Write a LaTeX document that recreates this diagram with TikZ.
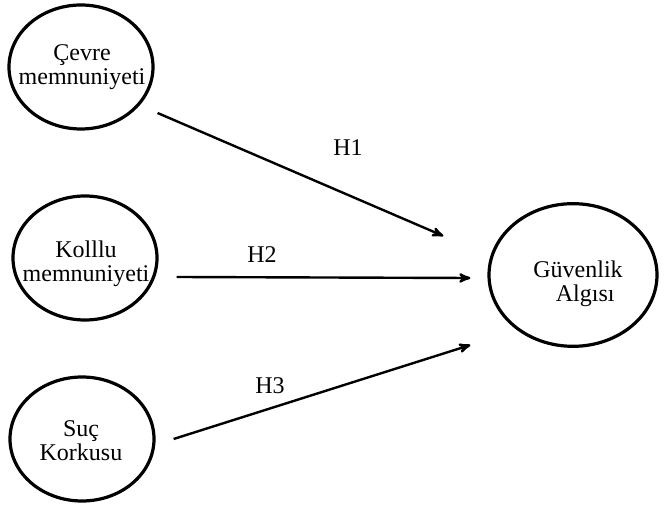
\documentclass[tikz,border=0pt]{standalone}
\usepackage{fontspec}
\setmainfont{Liberation Serif}
\usepackage{tikz}
\usetikzlibrary{arrows}
\usetikzlibrary{shapes.geometric}
\usetikzlibrary{positioning}
\begin{document}
\begin{tikzpicture}[x=0.75pt,y=-0.75pt,->,>=stealth',
    oval node/.style={ellipse,draw,line width=2.4pt,inner sep=0pt,minimum width=108pt,minimum height=93pt},
    big oval/.style={oval node,minimum width=126pt,minimum height=107pt},
    text node/.style={align=center,font=\fontsize{18}{18}\selectfont,inner sep=0pt},
    hyp node/.style={font=\fontsize{18}{18}\selectfont,inner sep=1pt},
    link/.style={line width=1.8pt}]
  \useasboundingbox (0,0) rectangle (664,505);
  % left column
  \node[oval node] (cevre) at (81,67) {};
  \node[text node] (cevret) at (82,67) {Çevre\\memnuniyeti};
  \node[oval node] (kolllu) at (85,258) {};
  \node[text node] (kolllut) at (86,264) {Kolllu\\memnuniyeti};
  \node[oval node] (suc) at (82,439) {};
  \node[text node] (suct) at (81,441) {Suç\\Korkusu};
  % right
  \node[big oval] (guven) at (573,275) {};
  \node[text node] (guvent) at (578,284) {Güvenlik\\\hspace{0.6em}Algısı};
  % arrows
  \draw[link] ([shift={(3,46)}]cevre.east) -- ([shift={(-44,-39)}]guven.west);
  \draw[link] ([shift={(18,19)}]kolllu.east) -- ([shift={(-17,3)}]guven.west);
  \draw[link] ([shift={(18,0)}]suc.east) -- ([shift={(-17,70)}]guven.west);
  % hypotheses
  \node[hyp node] (h1) at (348,148) {H1};
  \node[hyp node] (h2) at (262,255) {H2};
  \node[hyp node] (h3) at (270,386) {H3};
\end{tikzpicture}
\end{document}
